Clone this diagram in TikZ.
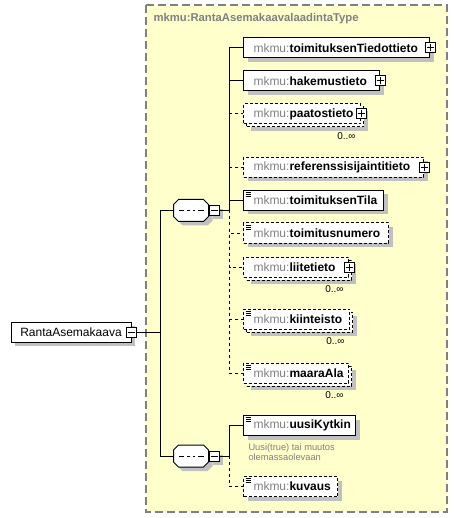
\documentclass[tikz,border=0pt]{standalone}
\usepackage{fontspec}
\setmainfont{Liberation Sans}
\usetikzlibrary{shadows}
\definecolor{typefill}{RGB}{255,255,204}
\definecolor{typeline}{RGB}{128,128,128}
\definecolor{shadowgray}{RGB}{192,192,192}
\definecolor{prefixgray}{RGB}{128,128,128}
\newcommand{\elname}[1]{\mbox{\textcolor{prefixgray}{mkmu:}\textbf{#1}}}

\begin{document}
\begin{tikzpicture}[x=1pt,y=-1pt,line width=1pt,
    boxshadow/.style={drop shadow={shadow xshift=4pt,shadow yshift=-4pt,fill=shadowgray,opacity=1}},
    optbox/.style={dash pattern=on 3pt off 2pt},
    optline/.style={dash pattern=on 3pt off 3pt},
    elem/.style={draw,fill=white,anchor=west,minimum height=20pt,inner xsep=0pt,inner ysep=0pt,
        align=left,font=\fontsize{12}{14}\selectfont,execute at begin node={\hspace*{10pt}}},
    multibox/.style={drop shadow={shadow xshift=7pt,shadow yshift=-7pt,fill=shadowgray,opacity=1},
        general shadow={shadow xshift=3pt,shadow yshift=-3pt,fill=white,draw=black,dash pattern=on 3pt off 2pt}},
    icon/.style={path picture={\foreach \yy in {2,4,6}
        \draw[solid,line width=0.8pt] ([xshift=2pt,yshift=-\yy pt]path picture bounding box.north west) -- +(5pt,0pt);}},
    cplx/.style={elem,boxshadow},
    cplxopt/.style={elem,boxshadow,optbox},
    cplxmulti/.style={elem,multibox,optbox},
    smpl/.style={elem,boxshadow,icon},
    smplopt/.style={elem,boxshadow,optbox,icon},
    smplmulti/.style={elem,multibox,optbox,icon},
    pbox/.style={draw,solid,fill=white,minimum size=10pt,inner sep=0pt,
        path picture={\draw ([xshift=-3.5pt]path picture bounding box.center) -- ([xshift=3.5pt]path picture bounding box.center)
            ([yshift=-3.5pt]path picture bounding box.center) -- ([yshift=3.5pt]path picture bounding box.center);}},
    mbox/.style={draw,fill=white,minimum size=10pt,inner sep=0pt,
        path picture={\draw ([xshift=-3.5pt]path picture bounding box.center) -- ([xshift=3.5pt]path picture bounding box.center);}},
    seq/.style={minimum width=34pt,minimum height=21pt,inner sep=0pt},
    seqmark/.style={draw,fill=white,boxshadow,
        path picture={\draw ([xshift=-12.5pt]path picture bounding box.center) -- ([xshift=12.5pt]path picture bounding box.center);
            \foreach \xx in {-5.5,0,5.5} \fill ([xshift=\xx pt]path picture bounding box.center) +(-1.5pt,-1.5pt) rectangle +(1.5pt,1.5pt);}},
    mult/.style={font=\fontsize{10}{12}\selectfont,inner sep=0pt,anchor=north east},
    note/.style={font=\fontsize{9.3}{10.5}\selectfont,text=prefixgray,align=left,inner sep=0pt,anchor=north west}]

    \useasboundingbox (0,0) rectangle (458,518);
    \draw[draw=typeline,fill=typefill,line width=1.3pt,dash pattern=on 8pt off 4pt] (146,5) rectangle (447,512);
    \node[anchor=west,inner sep=0pt,text=typeline,font=\fontsize{11.3}{13}\selectfont\bfseries] (typename) at (153,19) {mkmu:RantaAsemakaavalaadintaType};

    \node[draw,fill=white,minimum width=120pt,minimum height=20pt,inner sep=0pt,boxshadow,font=\fontsize{12}{14}\selectfont] (RantaAsemakaava) at (71,332) {RantaAsemakaava};
    \node[mbox] (RantaAsemakaava-m) at (RantaAsemakaava.east) {};

    \node[seq] (seqA) at (191,210.5) {};
    \node[seq] (seqB) at (191,456) {};
    \foreach \s in {seqA,seqB} {
        \draw[seqmark] ([xshift=5pt]\s.north west) -- ([xshift=-5pt]\s.north east) -- ([yshift=-5pt]\s.north east)
            -- ([yshift=5pt]\s.south east) -- ([xshift=-5pt]\s.south east) -- ([xshift=5pt]\s.south west)
            -- ([yshift=5pt]\s.south west) -- ([yshift=-5pt]\s.north west) -- cycle;
        \node[mbox,boxshadow,anchor=west] (\s-m) at (\s.east) {};
    }

    \foreach \nm/\y/\w/\kind in {toimituksenTiedottieto/48/186/cplx, hakemustieto/81/136/cplx,
        paatostieto/114/117/cplxmulti, referenssisijaintitieto/167.5/180/cplxopt,
        toimituksenTila/200.5/140/smpl, toimitusnumero/233/145/smplopt,
        liitetieto/267/105/cplxmulti, kiinteisto/319/106/smplmulti, maaraAla/373/105/smplmulti,
        uusiKytkin/425.5/112/smpl, kuvaus/486.5/94/smplopt}
        \node[\kind,text width=\w pt] (\nm) at (243,\y) {\elname{\nm}};

    \foreach \nm in {toimituksenTiedottieto,hakemustieto,paatostieto,referenssisijaintitieto,liitetieto}
        \node[pbox] (\nm-p) at (\nm.east) {};
    \foreach \nm in {paatostieto,liitetieto,kiinteisto,maaraAla}
        \node[mult] (\nm-n) at ([xshift=-5pt,yshift=-8pt]\nm.south east) {0..∞};
    \node[note] (uusiKytkin-doc) at ([xshift=5pt,yshift=-7pt]uusiKytkin.south west) {Uusi(true) tai muutos\\olemassaolevaan};

    \coordinate (rootbus) at ([xshift=23pt]RantaAsemakaava-m.east);
    \coordinate (busA) at ([xshift=10pt]seqA-m.east);
    \coordinate (busB) at ([xshift=10pt]seqB-m.east);
    \draw (RantaAsemakaava-m) -- (rootbus);
    \draw (rootbus) |- (seqA);
    \draw (rootbus) |- (seqB);

    \draw (seqA-m) -- (busA);
    \foreach \nm in {toimituksenTiedottieto,hakemustieto,toimituksenTila}
        \draw (busA) |- (\nm);
    \foreach \nm in {paatostieto,referenssisijaintitieto,toimitusnumero,liitetieto,kiinteisto,maaraAla}
        \draw[optline] (busA) |- (\nm);
    \draw (seqB-m) -- (busB);
    \draw (busB) |- (uusiKytkin);
    \draw[optline] (busB) |- (kuvaus);
\end{tikzpicture}
\end{document}
